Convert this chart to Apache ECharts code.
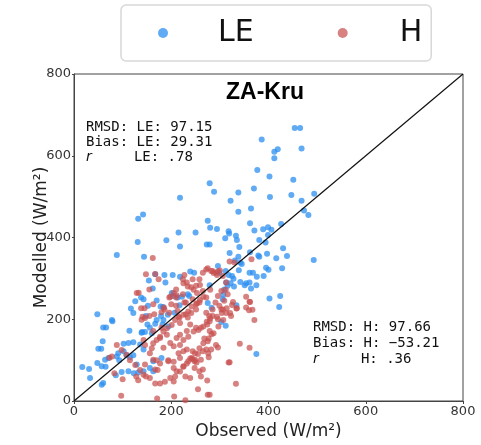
<!DOCTYPE html>
<html lang="en">

<head>
    <meta charset="utf-8">
    <title>ZA-Kru</title>
    <script src="https://cdn.jsdelivr.net/npm/echarts@6/dist/echarts.min.js"></script>
    <style type="text/css">
        html, body {
            margin: 0;
            padding: 0;
            background: #fff;
        }

        #chart {
            width: 481px;
            height: 445px;
        }
    </style>
</head>

<body>
    <div id="chart"></div>
    <script>
        // observed vs modelled, W/m2
        var seriesNames = ['LE', 'H'];
        var ticks = [0, 200, 400, 600, 800];
        var oneToOne = [[0, 0], [800, 800]];

        var lePoints = [
            [454, 668], [465, 668], [386, 640], [468, 618], [412, 610], [419, 616], [412, 594], [377, 565],
            [402, 549], [451, 541], [279, 533], [370, 520], [288, 512], [338, 510], [447, 504], [494, 507],
            [403, 499], [218, 497], [322, 490], [468, 490], [364, 471], [338, 463], [473, 466], [482, 455],
            [132, 446], [142, 456], [275, 441], [362, 435], [426, 433], [280, 424], [294, 421], [389, 420],
            [399, 425], [406, 419], [371, 417], [215, 412], [250, 412], [318, 415], [319, 410], [399, 406],
            [333, 404], [335, 394], [311, 398], [381, 394], [394, 388], [190, 393], [131, 389], [273, 383],
            [279, 383], [218, 378], [340, 377], [430, 374], [320, 362], [362, 364], [88, 357], [144, 353],
            [338, 353], [379, 356], [381, 353], [397, 360], [438, 355], [416, 349], [493, 345],
            [331, 344], [342, 339], [345, 335], [361, 314], [368, 314], [395, 326], [400, 321], [428, 325],
            [339, 320], [325, 306], [376, 304], [390, 306], [361, 290], [375, 283], [364, 275], [351, 283],
            [329, 280], [313, 290], [316, 282], [402, 251], [424, 257], [422, 230], [334, 234], [306, 249],
            [309, 273], [375, 115], [303, 193], [312, 184], [296, 330], [299, 314], [312, 318], [318, 308],
            [328, 299], [322, 288], [342, 291], [354, 288], [239, 317], [247, 314], [167, 310], [186, 308],
            [203, 308], [218, 304], [154, 295], [162, 275], [188, 290], [279, 283], [126, 244], [138, 253],
            [143, 249], [117, 226], [122, 215], [152, 233], [170, 246], [178, 231], [183, 230], [222, 255],
            [217, 234], [207, 216], [179, 208], [193, 211], [148, 208], [78, 198], [203, 257], [213, 253],
            [234, 261], [237, 257], [201, 264], [283, 228], [275, 240], [307, 260],
            [79, 195], [60, 180], [66, 180], [114, 172], [59, 146], [50, 128], [56, 128], [102, 140],
            [112, 142], [122, 144], [91, 117], [102, 122], [108, 112], [115, 107], [122, 112], [88, 109],
            [93, 100], [48, 93], [64, 101], [71, 105], [17, 83], [31, 78], [57, 85], [65, 84],
            [98, 71], [112, 73], [123, 68], [132, 70], [33, 56], [86, 63], [60, 44], [57, 40],
            [146, 169], [160, 166], [167, 189], [136, 138], [143, 126], [180, 105], [163, 97], [156, 81],
            [163, 73], [143, 73], [129, 89], [184, 198], [170, 198], [151, 187], [139, 167], [156, 179],
            [140, 169], [48, 212], [182, 187], [194, 182]
        ];

        var hPoints = [
            [162, 350], [167, 311], [174, 298], [365, 347], [320, 341], [330, 339], [148, 310], [227, 308],
            [224, 298], [232, 290], [234, 280], [241, 278], [210, 273], [258, 298], [275, 325], [285, 318],
            [292, 314], [306, 306], [296, 317], [282, 318], [272, 322], [300, 319], [287, 313], [294, 308],
            [313, 290], [312, 272], [303, 269], [296, 257], [291, 241], [285, 224], [278, 208], [265, 269],
            [272, 253], [258, 241], [251, 224], [241, 215], [234, 204], [155, 273], [133, 265], [129, 264],
            [196, 253], [210, 253], [224, 261], [200, 237], [210, 233], [227, 241], [186, 224], [196, 216],
            [213, 220], [217, 204], [230, 212], [141, 206], [155, 208], [165, 212], [230, 241], [244, 249],
            [251, 237], [272, 216], [285, 208], [296, 200], [303, 224], [309, 245], [265, 314], [251, 282],
            [244, 298], [138, 227], [145, 227], [163, 237], [185, 229], [180, 217], [198, 255], [205, 264],
            [211, 259], [225, 288], [246, 272], [253, 264], [259, 284], [280, 272], [266, 255], [259, 247],
            [253, 239], [242, 231], [235, 219], [225, 211], [215, 206], [208, 198], [201, 186], [191, 178],
            [184, 170], [177, 157], [170, 149], [163, 141], [160, 129], [146, 137], [143, 149],
            [354, 255], [362, 242], [327, 242], [334, 226], [367, 223], [354, 229], [316, 261], [313, 215],
            [323, 208], [371, 198], [299, 233], [306, 224], [360, 222], [361, 243], [341, 140], [361, 130],
            [320, 95], [333, 42], [321, 215], [335, 227], [325, 235], [314, 227], [304, 215], [294, 206],
            [307, 198], [297, 182], [287, 166], [277, 153],
            [266, 141], [258, 129], [249, 117], [239, 104], [232, 92], [225, 84], [218, 72], [208, 60],
            [198, 56], [187, 47], [177, 43], [167, 43], [156, 56], [143, 64], [136, 76], [126, 88],
            [115, 100], [108, 113], [98, 125], [88, 137], [78, 109],
            [97, 13], [171, 6], [206, 11], [229, 2], [275, 15], [279, 15], [255, 29], [274, 50],
            [258, 73], [265, 77], [244, 102], [252, 94], [248, 97], [261, 101], [277, 107], [276, 117],
            [292, 137], [296, 131], [282, 126], [272, 126], [275, 146], [268, 153], [279, 171], [283, 163],
            [261, 179], [251, 179], [279, 195], [274, 187], [265, 122], [255, 115], [248, 81], [261, 60],
            [318, 94], [139, 199], [146, 203], [180, 179], [163, 171], [191, 162], [177, 154], [198, 142],
            [205, 134], [184, 130], [156, 117], [163, 101], [146, 89], [167, 77], [194, 97], [205, 81],
            [211, 73], [225, 85], [235, 97], [242, 105], [249, 101], [218, 105], [229, 60], [239, 56],
            [205, 48], [225, 122], [232, 126], [244, 122], [211, 154], [218, 162], [232, 171], [239, 187],
            [218, 191], [170, 100], [177, 92], [194, 100], [205, 96], [215, 117], [218, 137], [225, 149],
            [235, 157], [246, 170], [256, 174], [266, 182], [273, 194], [280, 202],
            [83, 68], [100, 53], [128, 60], [132, 51], [148, 60], [172, 76], [73, 106]
        ];

        var leStats = 'RMSD: LE: 97.15\nBias: LE: 29.31\n{it|r}     LE: .78';
        var hStats = 'RMSD: H: 97.66\nBias: H: \u221253.21\n{it|r}     H: .36';

        var chart = echarts.init(document.getElementById('chart'));

        var option = {
            animation: false,
            title: {
                text: 'ZA-Kru',
                left: 221,
                top: 76,
                textStyle: {
                    fontFamily: 'Liberation Sans',
                    fontWeight: 'bold',
                    fontSize: 23,
                    color: '#000'
                }
            },
            legend: {
                data: [
                    { name: seriesNames[0], textStyle: { padding: [0, 0, 0, 45] } },
                    { name: seriesNames[1], textStyle: { padding: [0, 0, 0, 47] } }
                ],
                left: 121,
                top: 5,
                padding: [12, 9, 12, 37],
                itemGap: 84,
                itemWidth: 10,
                itemHeight: 10,
                borderColor: '#d8d8d8',
                borderWidth: 1.5,
                borderRadius: 5,
                textStyle: {
                    fontFamily: 'DejaVu Sans',
                    fontSize: 30,
                    lineHeight: 32,
                    color: '#111'
                }
            },
            grid: {
                left: 74,
                right: 18,
                top: 74,
                bottom: 44,
                show: true,
                borderColor: '#444',
                borderWidth: 1
            },
            xAxis: {
                type: 'value',
                min: ticks[0],
                max: ticks[ticks.length - 1],
                interval: 200,
                name: 'Observed (W/m\u00b2)',
                nameLocation: 'middle',
                nameGap: 22,
                nameMoveOverlap: false,
                nameTextStyle: { fontFamily: 'DejaVu Sans', fontSize: 17, color: '#222' },
                axisLine: { show: true, lineStyle: { color: '#444' } },
                axisTick: { show: true, length: 3, lineStyle: { color: '#444' } },
                axisLabel: { margin: 4, fontFamily: 'DejaVu Sans', fontSize: 13, color: '#333' },
                splitLine: { show: false }
            },
            yAxis: {
                type: 'value',
                min: ticks[0],
                max: ticks[ticks.length - 1],
                interval: 200,
                name: 'Modelled (W/m\u00b2)',
                nameLocation: 'middle',
                nameGap: 24,
                nameMoveOverlap: false,
                nameTextStyle: { fontFamily: 'DejaVu Sans', fontSize: 17, color: '#222' },
                axisLine: { show: true, lineStyle: { color: '#444' } },
                axisTick: { show: true, length: 2, lineStyle: { color: '#444' } },
                axisLabel: { margin: 3, fontFamily: 'DejaVu Sans', fontSize: 13, color: '#333' },
                splitLine: { show: false }
            },
            graphic: [{
                type: 'text',
                left: 86,
                top: 120,
                style: {
                    text: leStats,
                    font: '14px "DejaVu Sans Mono"',
                    lineHeight: 15,
                    fill: '#111',
                    rich: { it: { fontStyle: 'italic', font: 'italic 14px "DejaVu Sans"' } }
                }
            }, {
                type: 'text',
                left: 313,
                top: 319,
                style: {
                    text: hStats,
                    font: '14px "DejaVu Sans Mono"',
                    lineHeight: 16,
                    fill: '#111',
                    rich: { it: { fontStyle: 'italic', font: 'italic 14px "DejaVu Sans"' } }
                }
            }],
            series: [{
                name: seriesNames[0],
                type: 'scatter',
                data: lePoints,
                symbolSize: 6,
                itemStyle: { color: '#2b8ff0', opacity: 0.75 }
            }, {
                name: seriesNames[1],
                type: 'scatter',
                data: hPoints,
                symbolSize: 6,
                itemStyle: { color: '#c85050', opacity: 0.72 }
            }, {
                type: 'line',
                data: oneToOne,
                symbol: 'none',
                silent: true,
                lineStyle: { color: '#111', width: 1.2 },
                z: 5
            }]
        };
        chart.setOption(option);
    </script>
</body>

</html>
